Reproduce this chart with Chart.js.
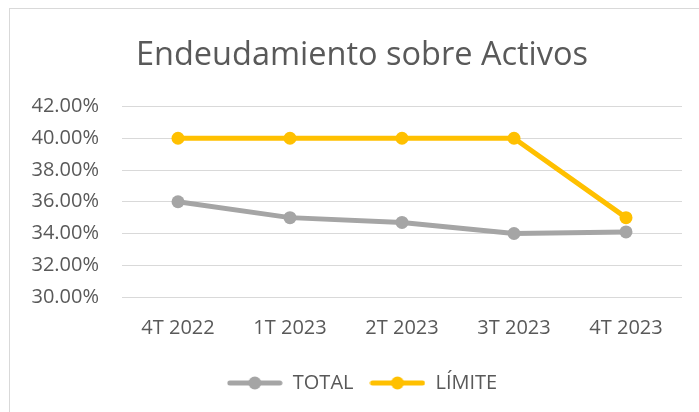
<!DOCTYPE html>
<html lang="es">
<head>
<meta charset="UTF-8">
<title>Endeudamiento sobre Activos</title>
<script src="https://cdn.jsdelivr.net/npm/chart.js"></script>
<style>
  html, body { margin: 0; padding: 0; background: #fff; overflow: hidden; }
  #frame { position: absolute; left: 9px; top: 8px; width: 720px; height: 440px; border: 1px solid #d9d9d9; }
  #wrap { position: absolute; left: 0; top: 0; width: 699px; height: 412px; }
</style>
</head>
<body>
<div id="frame"></div>
<div id="wrap"><canvas id="chart"></canvas></div>
<script>
  const categories = ['4T 2022', '1T 2023', '2T 2023', '3T 2023', '4T 2023'];
  const totalValues = [36.0, 35.0, 34.7, 34.0, 34.1];
  const limiteValues = [40.0, 40.0, 40.0, 40.0, 35.0];
  const yTicks = [30, 32, 34, 36, 38, 40, 42];

  const GRAY = '#A5A5A5';
  const GOLD = '#FFC000';
  const TEXT = '#595959';

  // legend marker: line with a dot in the middle, like Excel
  function marker(color) {
    const c = document.createElement('canvas');
    c.width = 56; c.height = 14;
    const g = c.getContext('2d');
    g.strokeStyle = color;
    g.lineWidth = 5;
    g.lineCap = 'round';
    g.beginPath(); g.moveTo(3, 7); g.lineTo(53, 7); g.stroke();
    g.fillStyle = color;
    g.beginPath(); g.arc(28, 7, 6.5, 0, Math.PI * 2); g.fill();
    return c;
  }
  const markers = [marker(GRAY), marker(GOLD)];

  // the source chart is wider than the crop, so title and legend sit a bit right of centre
  const shiftBlocks = {
    id: 'shiftBlocks',
    afterLayout(chart) {
      chart.titleBlock.left += 42;
      chart.legend.left += 42;
    }
  };

  const ctx = document.getElementById('chart').getContext('2d');
  new Chart(ctx, {
    type: 'line',
    data: {
      labels: categories,
      datasets: [
        {
          label: 'TOTAL',
          data: totalValues,
          borderColor: GRAY,
          backgroundColor: GRAY,
          borderWidth: 5,
          pointRadius: 6.5,
          pointBorderWidth: 0,
          borderCapStyle: 'round',
          borderJoinStyle: 'round',
          fill: false
        },
        {
          label: 'LÍMITE',
          data: limiteValues,
          borderColor: GOLD,
          backgroundColor: GOLD,
          borderWidth: 5,
          pointRadius: 6.5,
          pointBorderWidth: 0,
          borderCapStyle: 'round',
          borderJoinStyle: 'round',
          fill: false
        }
      ]
    },
    options: {
      responsive: true,
      maintainAspectRatio: false,
      animation: false,
      layout: { padding: { left: 0, right: 17, top: 0, bottom: 9 } },
      plugins: {
        title: {
          display: true,
          text: 'Endeudamiento sobre Activos',
          color: TEXT,
          font: { family: 'Open Sans', size: 32.5, weight: 'normal', lineHeight: 1.2 },
          padding: { top: 36, bottom: 31.5 }
        },
        legend: {
          position: 'bottom',
          labels: {
            color: TEXT,
            font: { family: 'Open Sans', size: 20 },
            usePointStyle: true,
            pointStyleWidth: 56,
            boxHeight: 14,
            padding: 16,
            generateLabels(chart) {
              const items = Chart.defaults.plugins.legend.labels.generateLabels(chart);
              items.forEach((it, i) => { it.pointStyle = markers[i]; });
              return items;
            }
          }
        },
        tooltip: { enabled: false }
      },
      scales: {
        x: {
          offset: true,
          grid: { display: false, drawTicks: false },
          border: { display: false },
          ticks: { color: TEXT, font: { family: 'Open Sans', size: 20 }, padding: 19 },
          afterFit(scale) { scale.height = 60; }
        },
        y: {
          min: 30,
          max: 42,
          afterBuildTicks(scale) { scale.ticks = yTicks.map(v => ({ value: v })); },
          grid: { color: '#d9d9d9', lineWidth: 1, drawTicks: false },
          border: { display: false },
          ticks: {
            color: TEXT,
            font: { family: 'Open Sans', size: 20 },
            padding: 23,
            callback: v => v.toFixed(2) + '%'
          },
          afterFit(scale) { scale.width = 122; }
        }
      }
    },
    plugins: [shiftBlocks]
  });
</script>
</body>
</html>
